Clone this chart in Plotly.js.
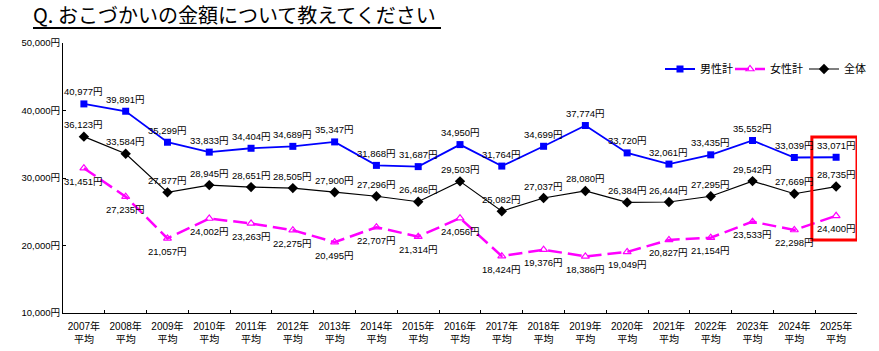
<!DOCTYPE html>
<html>
<head>
<meta charset="utf-8">
<script src="https://cdn.plot.ly/plotly-3.0.1.min.js"></script>
<style>html,body{margin:0;padding:0;background:#fff;}#chart{width:879px;height:351px;}</style>
</head>
<body>
<div id="chart"></div>
<script>
const years = ["2007","2008","2009","2010","2011","2012","2013","2014","2015","2016","2017","2018","2019","2020","2021","2022","2023","2024","2025"];
const categories = years.map(y => y + "年<br>平均");
const maleValues = [40977,39891,35299,33833,34404,34689,35347,31868,31687,34950,31764,34699,37774,33720,32061,33435,35552,33039,33071];
const femaleValues = [31451,27235,21057,24002,23263,22275,20495,22707,21314,24056,18424,19376,18386,19049,20827,21154,23533,22298,24400];
const totalValues = [36123,33584,27877,28945,28651,28505,27900,27296,26486,29503,25082,27037,28080,26384,26444,27295,29542,27669,28735];
const seriesNames = ["男性計","女性計","全体"];
const titleText = "Q. おこづかいの金額について教えてください";

const fmt = v => v.toLocaleString("en-US") + "円";
const FONT = "Liberation Sans, Arial, 'Noto Sans CJK JP', sans-serif";
const JFONT = "'Noto Sans CJK JP', 'Liberation Sans', sans-serif";

const W = 879, H = 351, L = 63, R = 22, T = 43, B = 38;
const pw = W - L - R, ph = H - T - B;
const px = x => (x - L) / pw;
const py = y => (H - B - y) / ph;

const traces = [
  {
    x: categories, y: maleValues, name: seriesNames[0], type: "scatter", mode: "lines+markers",
    line: {color: "#0000FF", width: 1.8},
    marker: {symbol: "square", size: 7, color: "#0000FF"}, legend: "legend"
  },
  {
    x: categories, y: femaleValues, name: seriesNames[1], type: "scatter", mode: "lines+markers",
    line: {color: "#FF00FF", width: 2.5, dash: "14px,6px"},
    marker: {symbol: "triangle-up-open", size: 7, color: "#FF00FF", line: {width: 1.2}}, legend: "legend2"
  },
  {
    x: categories, y: totalValues, name: seriesNames[2], type: "scatter", mode: "lines+markers",
    line: {color: "#000000", width: 1.2},
    marker: {symbol: "diamond", size: 8, color: "#000000"}, legend: "legend3"
  }
];

function labels(vals, shift) {
  return vals.map((v, i) => ({
    x: categories[i], y: v, xref: "x", yref: "y", text: fmt(v), showarrow: false,
    yshift: shift, font: {family: FONT, size: 9.5, color: "#000"}
  }));
}

function legendAt(xpix) {
  return {
    orientation: "h", x: px(xpix), xanchor: "left", y: py(69), yanchor: "middle",
    font: {family: JFONT, size: 11, color: "#000"}, itemwidth: 30,
    bgcolor: "rgba(0,0,0,0)", borderwidth: 0
  };
}

const layout = {
  width: W, height: H,
  margin: {l: L, r: R, t: T, b: B, pad: 0, autoexpand: false},
  paper_bgcolor: "#fff", plot_bgcolor: "#fff",
  font: {family: FONT, size: 10, color: "#000"},
  title: {
    text: titleText, font: {family: JFONT, size: 20, color: "#000"},
    xref: "container", yref: "container", x: 33 / W, xanchor: "left", y: 1 - 16 / H, yanchor: "middle"
  },
  showlegend: true,
  legend: legendAt(660),
  legend2: legendAt(730),
  legend3: legendAt(804),
  xaxis: {
    type: "category", range: [-0.5, 18.5], showgrid: false, zeroline: false,
    showline: true, linecolor: "#000", linewidth: 1,
    ticks: "inside", ticklen: 3, tickcolor: "#000", tickmode: "linear", dtick: 1,
    tickson: "boundaries", tickangle: 0, ticklabelstandoff: 4,
    tickfont: {family: FONT, size: 10, color: "#000"}, fixedrange: true
  },
  yaxis: {
    range: [10000, 50000], dtick: 10000, tick0: 10000, showgrid: false, zeroline: false,
    showline: true, linecolor: "#000", linewidth: 1,
    ticks: "inside", ticklen: 3, tickcolor: "#000",
    tickformat: ",d", ticksuffix: "円",
    tickfont: {family: FONT, size: 9.5, color: "#000"}, fixedrange: true
  },
  annotations: [].concat(labels(maleValues, 12), labels(femaleValues, -13), labels(totalValues, 12)),
  shapes: [
    {type: "line", xref: "paper", yref: "paper", x0: px(33), x1: px(441), y0: py(28), y1: py(28),
     line: {color: "#000", width: 2}},
    {type: "rect", xref: "x", yref: "y", x0: 17.42, x1: 18.5, y0: 20815, y1: 36074,
     line: {color: "#FF0000", width: 3}, fillcolor: "rgba(0,0,0,0)"}
  ]
};

Plotly.newPlot("chart", traces, layout, {staticPlot: true, displayModeBar: false});
</script>
</body>
</html>
